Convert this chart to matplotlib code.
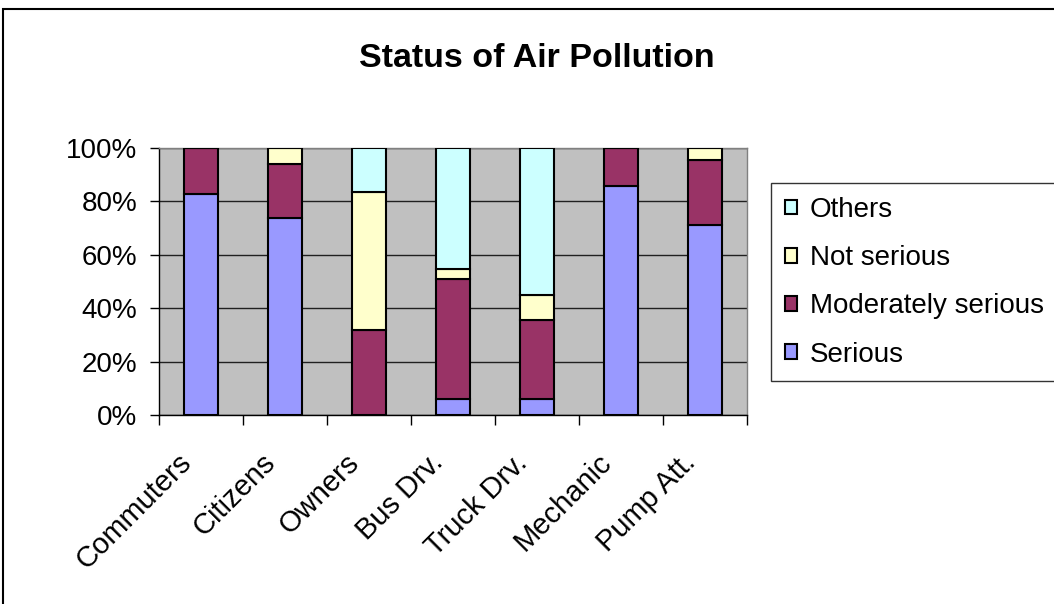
import matplotlib
matplotlib.use("Agg")
import matplotlib.pyplot as plt
import matplotlib.transforms as mtransforms
import numpy as np
from matplotlib.patches import Rectangle

plt.rcParams['font.family'] = ['Liberation Sans', 'DejaVu Sans']

categories = ["Commuters", "Citizens", "Owners", "Bus Drv.", "Truck Drv.", "Mechanic", "Pump Att."]
serious = [82.7, 73.7, 0.0, 5.9, 5.9, 85.9, 71.2]
moderately = [17.3, 20.2, 31.9, 45.1, 29.6, 14.1, 24.3]
not_serious = [0.0, 6.1, 51.5, 3.7, 9.6, 0.0, 4.5]
others = [0.0, 0.0, 16.6, 45.3, 54.9, 0.0, 0.0]

series_names = ["Serious", "Moderately serious", "Not serious", "Others"]
series_colors = ["#9999FF", "#993366", "#FFFFCC", "#CCFFFF"]
yticks = [0, 20, 40, 60, 80, 100]
ytick_labels = ["0%", "20%", "40%", "60%", "80%", "100%"]

W, H = 1054, 604
fig = plt.figure(figsize=(W / 100, H / 100), dpi=100)
ax = fig.add_axes([159 / W, 1 - 415 / H, (747 - 159) / W, (415 - 148) / H])
ax.set_facecolor("#C0C0C0")

x = np.arange(len(categories))
bottom = np.zeros(len(categories))
handles = []
for vals, name, col in zip([serious, moderately, not_serious, others], series_names, series_colors):
    vals = np.array(vals)
    b = ax.bar(x, vals, width=0.4, bottom=bottom, color=col, edgecolor="black",
               linewidth=1.5, label=name, zorder=3)
    handles.append(b)
    bottom = bottom + vals

ax.set_xlim(-0.5, len(categories) - 0.5)
ax.set_ylim(0, 100)
ax.set_yticks(yticks)
ax.set_yticklabels(ytick_labels, fontsize=20)
ax.yaxis.grid(True, color="#202020", linewidth=1.0, zorder=1)
ax.set_axisbelow(True)

ax.set_xticks(np.arange(-0.5, len(categories), 1.0))
ax.set_xticklabels([])
ax.set_xticks(x, minor=True)
ax.set_xticklabels(categories, minor=True, rotation=45, ha="right", va="top",
                   fontsize=21)
ax.tick_params(axis="x", which="minor", length=0, pad=22)
ax.tick_params(axis="x", which="major", direction="out", length=7, width=1, color="black")
ax.tick_params(axis="y", direction="out", length=6.5, width=1, color="black", pad=9)

offset = mtransforms.ScaledTranslation(-4 / 100, -3 / 100, fig.dpi_scale_trans)
for lab in ax.get_xticklabels(minor=True):
    lab.set_transform(lab.get_transform() + offset)

for s in ["top", "right"]:
    ax.spines[s].set_color("#808080")
    ax.spines[s].set_linewidth(1.0)
for s in ["left", "bottom"]:
    ax.spines[s].set_color("black")
    ax.spines[s].set_linewidth(1.0)

fig.text(537 / W, 1 - 67 / H, "Status of Air Pollution", fontsize=24.5,
         fontweight="bold", ha="center", va="baseline")

leg = fig.legend(handles[::-1], series_names[::-1], loc="upper left",
                 bbox_to_anchor=(771 / W, 1 - 183 / H), fontsize=20,
                 frameon=True, fancybox=False, edgecolor="black",
                 handlelength=0.45, handleheight=0.45, handletextpad=0.45,
                 labelspacing=0.8, borderpad=0.5, borderaxespad=0)
leg.get_frame().set_linewidth(1.0)

fig.add_artist(Rectangle((3 / W, -0.05), 1.2, 1 - 9 / H + 0.05, transform=fig.transFigure,
                         fill=False, edgecolor="black", linewidth=1.5))

fig.savefig("out.png", dpi=100)
